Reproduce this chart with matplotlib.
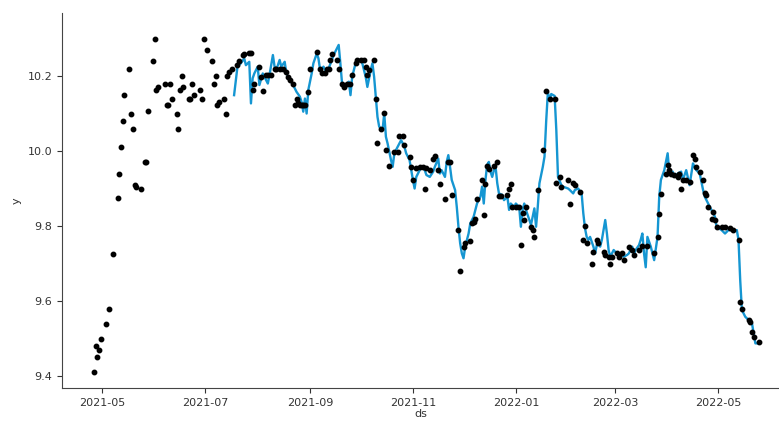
import pandas as pd
import matplotlib
matplotlib.use("Agg")
import matplotlib.pyplot as plt
import matplotlib.dates as mdates

# observed points (black dots)
obs_dates = [
    "2021-04-26", "2021-04-27", "2021-04-28", "2021-04-29", "2021-04-30", "2021-05-03", "2021-05-05",
    "2021-05-07", "2021-05-10", "2021-05-11", "2021-05-12", "2021-05-13", "2021-05-14", "2021-05-17",
    "2021-05-18", "2021-05-19", "2021-05-20", "2021-05-21", "2021-05-24", "2021-05-26", "2021-05-27",
    "2021-05-28", "2021-05-31", "2021-06-01", "2021-06-02", "2021-06-03", "2021-06-07", "2021-06-08",
    "2021-06-09", "2021-06-10", "2021-06-11", "2021-06-14", "2021-06-15", "2021-06-16", "2021-06-17",
    "2021-06-18", "2021-06-21", "2021-06-22", "2021-06-23", "2021-06-24", "2021-06-28", "2021-06-29",
    "2021-06-30", "2021-07-02", "2021-07-05", "2021-07-06", "2021-07-07", "2021-07-08", "2021-07-09",
    "2021-07-12", "2021-07-13", "2021-07-14", "2021-07-15", "2021-07-17", "2021-07-20", "2021-07-21",
    "2021-07-23", "2021-07-24", "2021-07-27", "2021-07-28", "2021-07-29", "2021-07-30", "2021-08-02",
    "2021-08-03", "2021-08-04", "2021-08-06", "2021-08-07", "2021-08-09", "2021-08-11", "2021-08-12",
    "2021-08-14", "2021-08-16", "2021-08-18", "2021-08-19", "2021-08-20", "2021-08-22", "2021-08-23",
    "2021-08-24", "2021-08-25", "2021-08-26", "2021-08-27", "2021-08-28", "2021-08-29", "2021-08-31",
    "2021-09-01", "2021-09-05", "2021-09-07", "2021-09-08", "2021-09-10", "2021-09-11", "2021-09-12",
    "2021-09-13", "2021-09-14", "2021-09-17", "2021-09-18", "2021-09-20", "2021-09-21", "2021-09-23",
    "2021-09-25", "2021-09-26", "2021-09-28", "2021-09-29", "2021-10-01", "2021-10-03", "2021-10-04",
    "2021-10-05", "2021-10-06", "2021-10-09", "2021-10-10", "2021-10-11", "2021-10-13", "2021-10-15",
    "2021-10-16", "2021-10-18", "2021-10-21", "2021-10-23", "2021-10-24", "2021-10-26", "2021-10-27",
    "2021-10-30", "2021-10-31", "2021-11-01", "2021-11-03", "2021-11-05", "2021-11-07", "2021-11-08",
    "2021-11-09", "2021-11-11", "2021-11-13", "2021-11-14", "2021-11-16", "2021-11-17", "2021-11-20",
    "2021-11-22", "2021-11-23", "2021-11-24", "2021-11-28", "2021-11-29", "2021-12-01", "2021-12-02",
    "2021-12-05", "2021-12-06", "2021-12-07", "2021-12-08", "2021-12-09", "2021-12-12", "2021-12-13",
    "2021-12-14", "2021-12-15", "2021-12-16", "2021-12-19", "2021-12-21", "2021-12-22", "2021-12-23",
    "2021-12-27", "2021-12-28", "2021-12-29", "2021-12-30", "2022-01-01", "2022-01-03", "2022-01-04",
    "2022-01-05", "2022-01-06", "2022-01-07", "2022-01-10", "2022-01-11", "2022-01-12", "2022-01-14",
    "2022-01-17", "2022-01-19", "2022-01-21", "2022-01-24", "2022-01-25", "2022-01-27", "2022-01-28",
    "2022-02-01", "2022-02-02", "2022-02-04", "2022-02-05", "2022-02-08", "2022-02-10", "2022-02-11",
    "2022-02-12", "2022-02-15", "2022-02-16", "2022-02-18", "2022-02-19", "2022-02-22", "2022-02-23",
    "2022-02-25", "2022-02-26", "2022-02-27", "2022-03-02", "2022-03-03", "2022-03-05", "2022-03-06",
    "2022-03-09", "2022-03-11", "2022-03-12", "2022-03-15", "2022-03-17", "2022-03-20", "2022-03-24",
    "2022-03-26", "2022-03-27", "2022-03-28", "2022-03-31", "2022-04-01", "2022-04-02", "2022-04-03",
    "2022-04-05", "2022-04-07", "2022-04-08", "2022-04-09", "2022-04-10", "2022-04-12", "2022-04-14",
    "2022-04-16", "2022-04-17", "2022-04-18", "2022-04-20", "2022-04-22", "2022-04-23", "2022-04-24",
    "2022-04-25", "2022-04-27", "2022-04-28", "2022-04-29", "2022-04-30", "2022-05-03", "2022-05-05",
    "2022-05-08", "2022-05-10", "2022-05-13", "2022-05-14", "2022-05-15", "2022-05-19", "2022-05-20",
    "2022-05-21", "2022-05-22", "2022-05-25",
]
obs_vals = [
    9.41, 9.48, 9.45, 9.47, 9.50, 9.54, 9.58,
    9.725, 9.874, 9.94, 10.01, 10.08, 10.15, 10.22,
    10.10, 10.06, 9.91, 9.905, 9.90, 9.97, 9.97,
    10.107, 10.24, 10.30, 10.163, 10.172, 10.18, 10.123,
    10.123, 10.18, 10.14, 10.10, 10.06, 10.163, 10.20,
    10.172, 10.14, 10.14, 10.18, 10.149, 10.162, 10.14,
    10.30, 10.269, 10.24, 10.18, 10.20, 10.123, 10.131,
    10.14, 10.10, 10.20, 10.21, 10.22, 10.23, 10.24,
    10.255, 10.26, 10.262, 10.262, 10.163, 10.18, 10.225,
    10.198, 10.16, 10.203, 10.203, 10.203, 10.22, 10.22,
    10.22, 10.22, 10.211, 10.198, 10.189, 10.18, 10.123,
    10.14, 10.127, 10.123, 10.123, 10.123, 10.123, 10.158,
    10.22, 10.265, 10.22, 10.207, 10.207, 10.22, 10.22,
    10.243, 10.26, 10.243, 10.22, 10.18, 10.171, 10.18,
    10.18, 10.203, 10.234, 10.243, 10.243, 10.243, 10.225,
    10.203, 10.216, 10.243, 10.14, 10.022, 10.06, 10.102,
    10.003, 9.96, 9.998, 9.998, 10.04, 10.04, 10.016,
    9.985, 9.958, 9.923, 9.954, 9.958, 9.958, 9.90,
    9.954, 9.949, 9.978, 9.987, 9.949, 9.912, 9.871,
    9.971, 9.971, 9.883, 9.789, 9.681, 9.745, 9.754,
    9.761, 9.807, 9.811, 9.82, 9.871, 9.923, 9.829,
    9.912, 9.96, 9.951, 9.96, 9.971, 9.88, 9.88,
    9.883, 9.90, 9.912, 9.851, 9.851, 9.851, 9.749,
    9.834, 9.816, 9.851, 9.798, 9.789, 9.771, 9.896,
    10.003, 10.16, 10.14, 10.14, 9.914, 9.931, 9.905,
    9.923, 9.86, 9.914, 9.909, 9.892, 9.763, 9.80,
    9.754, 9.70, 9.731, 9.763, 9.754, 9.731, 9.723,
    9.718, 9.70, 9.718, 9.727, 9.718, 9.727, 9.709,
    9.745, 9.736, 9.723, 9.736, 9.747, 9.747, 9.729,
    9.77, 9.832, 9.885, 9.94, 9.963, 9.949, 9.94,
    9.936, 9.931, 9.94, 9.90, 9.923, 9.923, 9.918,
    9.989, 9.98, 9.958, 9.945, 9.923, 9.887, 9.883,
    9.851, 9.82, 9.838, 9.816, 9.797, 9.797, 9.797,
    9.794, 9.789, 9.763, 9.598, 9.58, 9.549, 9.545,
    9.518, 9.505, 9.491,
]

# fitted line (blue)
fit_dates = [
    "2021-07-18", "2021-07-20", "2021-07-22", "2021-07-24", "2021-07-25", "2021-07-27", "2021-07-28",
    "2021-07-29", "2021-07-30", "2021-08-01", "2021-08-02", "2021-08-04", "2021-08-06", "2021-08-07",
    "2021-08-08", "2021-08-10", "2021-08-11", "2021-08-12", "2021-08-14", "2021-08-15", "2021-08-17",
    "2021-08-18", "2021-08-20", "2021-08-22", "2021-08-24", "2021-08-26", "2021-08-27", "2021-08-28",
    "2021-08-29", "2021-08-30", "2021-08-31", "2021-09-02", "2021-09-03", "2021-09-05", "2021-09-06",
    "2021-09-07", "2021-09-09", "2021-09-10", "2021-09-12", "2021-09-14", "2021-09-15", "2021-09-16",
    "2021-09-18", "2021-09-19", "2021-09-20", "2021-09-21", "2021-09-23", "2021-09-24", "2021-09-25",
    "2021-09-26", "2021-09-28", "2021-09-29", "2021-10-01", "2021-10-02", "2021-10-04", "2021-10-05",
    "2021-10-07", "2021-10-08", "2021-10-09", "2021-10-10", "2021-10-11", "2021-10-12", "2021-10-14",
    "2021-10-15", "2021-10-16", "2021-10-17", "2021-10-19", "2021-10-20", "2021-10-21", "2021-10-22",
    "2021-10-24", "2021-10-25", "2021-10-27", "2021-10-28", "2021-10-30", "2021-10-31", "2021-11-01",
    "2021-11-02", "2021-11-03", "2021-11-05", "2021-11-06", "2021-11-08", "2021-11-09", "2021-11-11",
    "2021-11-13", "2021-11-14", "2021-11-16", "2021-11-17", "2021-11-18", "2021-11-20", "2021-11-21",
    "2021-11-22", "2021-11-23", "2021-11-24", "2021-11-26", "2021-11-27", "2021-11-28", "2021-11-29",
    "2021-11-30", "2021-12-01", "2021-12-02", "2021-12-04", "2021-12-05", "2021-12-07", "2021-12-08",
    "2021-12-09", "2021-12-11", "2021-12-12", "2021-12-13", "2021-12-14", "2021-12-15", "2021-12-16",
    "2021-12-17", "2021-12-18", "2021-12-19", "2021-12-20", "2021-12-21", "2021-12-22", "2021-12-24",
    "2021-12-25", "2021-12-27", "2021-12-28", "2021-12-29", "2021-12-31", "2022-01-01", "2022-01-03",
    "2022-01-04", "2022-01-05", "2022-01-06", "2022-01-07", "2022-01-09", "2022-01-10", "2022-01-12",
    "2022-01-13", "2022-01-14", "2022-01-15", "2022-01-17", "2022-01-18", "2022-01-19", "2022-01-20",
    "2022-01-21", "2022-01-22", "2022-01-24", "2022-01-25", "2022-01-26", "2022-01-28", "2022-01-29",
    "2022-02-01", "2022-02-02", "2022-02-04", "2022-02-05", "2022-02-07", "2022-02-08", "2022-02-09",
    "2022-02-10", "2022-02-11", "2022-02-12", "2022-02-13", "2022-02-14", "2022-02-15", "2022-02-16",
    "2022-02-17", "2022-02-18", "2022-02-19", "2022-02-20", "2022-02-21", "2022-02-22", "2022-02-23",
    "2022-02-24", "2022-02-25", "2022-02-26", "2022-02-27", "2022-02-28", "2022-03-01", "2022-03-02",
    "2022-03-03", "2022-03-04", "2022-03-05", "2022-03-06", "2022-03-08", "2022-03-09", "2022-03-11",
    "2022-03-12", "2022-03-13", "2022-03-15", "2022-03-16", "2022-03-17", "2022-03-18", "2022-03-19",
    "2022-03-20", "2022-03-22", "2022-03-24", "2022-03-26", "2022-03-27", "2022-03-28", "2022-03-30",
    "2022-04-01", "2022-04-02", "2022-04-04", "2022-04-05", "2022-04-07", "2022-04-09", "2022-04-10",
    "2022-04-12", "2022-04-14", "2022-04-16", "2022-04-18", "2022-04-20", "2022-04-22", "2022-04-23",
    "2022-04-26", "2022-04-29", "2022-04-30", "2022-05-03", "2022-05-05", "2022-05-07", "2022-05-10",
    "2022-05-12", "2022-05-13", "2022-05-14", "2022-05-15", "2022-05-17", "2022-05-20", "2022-05-21",
    "2022-05-23", "2022-05-25",
]
fit_vals = [
    10.149, 10.225, 10.234, 10.247, 10.229, 10.238, 10.127,
    10.194, 10.207, 10.225, 10.176, 10.207, 10.189, 10.18,
    10.203, 10.256, 10.225, 10.216, 10.243, 10.225, 10.238,
    10.207, 10.189, 10.176, 10.158, 10.145, 10.131, 10.105,
    10.14, 10.10, 10.163, 10.207, 10.234, 10.26, 10.247,
    10.216, 10.225, 10.216, 10.22, 10.243, 10.256, 10.265,
    10.283, 10.234, 10.18, 10.171, 10.18, 10.185, 10.149,
    10.198, 10.234, 10.243, 10.243, 10.234, 10.198, 10.171,
    10.216, 10.234, 10.198, 10.145, 10.091, 10.065, 10.056,
    10.10, 10.038, 10.02, 9.976, 9.958, 9.994, 10.003,
    10.02, 10.029, 10.011, 9.994, 9.976, 9.949, 9.923,
    9.90, 9.931, 9.949, 9.958, 9.949, 9.936, 9.931,
    9.945, 9.958, 9.98, 9.94, 9.949, 9.931, 9.971,
    9.989, 9.958, 9.923, 9.896, 9.851, 9.798, 9.754,
    9.727, 9.714, 9.745, 9.78, 9.807, 9.825, 9.843,
    9.86, 9.878, 9.905, 9.86, 9.923, 9.963, 9.971,
    9.945, 9.931, 9.949, 9.958, 9.914, 9.887, 9.883,
    9.869, 9.878, 9.843, 9.86, 9.851, 9.86, 9.851,
    9.798, 9.843, 9.86, 9.843, 9.816, 9.803, 9.847,
    9.798, 9.851, 9.914, 9.958, 9.985, 10.08, 10.157,
    10.136, 10.152, 10.147, 10.056, 9.931, 9.909, 9.905,
    9.90, 9.896, 9.887, 9.896, 9.90, 9.892, 9.887,
    9.834, 9.794, 9.771, 9.763, 9.771, 9.758, 9.745,
    9.727, 9.749, 9.754, 9.745, 9.763, 9.789, 9.816,
    9.78, 9.736, 9.718, 9.727, 9.736, 9.731, 9.727,
    9.723, 9.714, 9.723, 9.718, 9.723, 9.727, 9.745,
    9.723, 9.736, 9.749, 9.763, 9.78, 9.727, 9.69,
    9.771, 9.745, 9.709, 9.771, 9.878, 9.923, 9.949,
    9.994, 9.94, 9.945, 9.931, 9.94, 9.945, 9.923,
    9.949, 9.909, 9.967, 9.949, 9.94, 9.896, 9.878,
    9.851, 9.825, 9.798, 9.789, 9.78, 9.789, 9.789,
    9.789, 9.763, 9.656, 9.576, 9.558, 9.545, 9.54,
    9.487, 9.487,
]

obs_x = pd.to_datetime(obs_dates)
fit_x = pd.to_datetime(fit_dates)

fig = plt.figure(figsize=(7.79, 4.21), dpi=100)
ax = fig.add_axes([0.0796, 0.0784, 0.9204, 0.8906])

ax.plot(fit_x, fit_vals, color="#1596d2", linewidth=1.7, zorder=2)
ax.plot(obs_x, obs_vals, "o", color="black", markersize=3.2, zorder=3)

ax.set_xlim(pd.Timestamp("2021-04-07"), pd.Timestamp("2022-06-06"))
ax.set_ylim(9.368, 10.368)
ax.set_yticks([9.4, 9.6, 9.8, 10.0, 10.2])

ax.xaxis.set_major_locator(mdates.MonthLocator(bymonth=[1, 3, 5, 7, 9, 11]))
ax.xaxis.set_major_formatter(mdates.DateFormatter("%Y-%m"))

ax.spines["top"].set_visible(False)
ax.spines["right"].set_visible(False)
for s in ["left", "bottom"]:
    ax.spines[s].set_color("#444444")
ax.tick_params(labelsize=8, colors="#333333")

ax.set_xlabel("ds", fontsize=8, color="#333333", labelpad=1)
ax.set_ylabel("y", fontsize=8, color="#333333")

fig.savefig("out.png", dpi=100)
